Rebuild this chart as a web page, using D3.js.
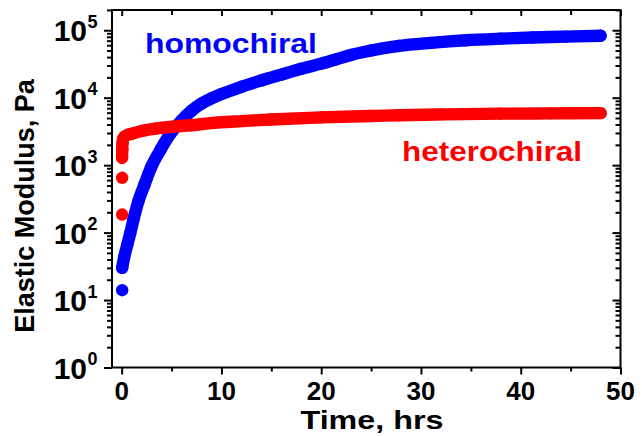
<!DOCTYPE html>
<html>
<head>
<meta charset="utf-8">
<script src="https://cdn.jsdelivr.net/npm/d3@7/dist/d3.min.js"></script>
<style>
  html, body { margin: 0; padding: 0; background: #fff; }
  svg { display: block; font-family: "Liberation Sans", Arial, sans-serif; font-weight: bold; }
</style>
</head>
<body>
<svg id="chart" width="642" height="436"></svg>
<script>
// Elastic modulus (Pa) versus time (hours) for the two gel systems
const homoTime = [0.05, 0.25, 0.55, 0.85, 1.2, 1.7, 2.3, 2.95, 3.9, 4.9, 6.0, 7.0, 8.0, 9.0, 10, 12, 14, 16, 18, 20, 21.5, 23, 25, 27.8, 31, 34.5, 38, 41.2, 44.5, 48];
const homoModulus = [30, 43, 65, 97, 160, 300, 520, 930, 1700, 2950, 4600, 6400, 8200, 9800, 11300, 14500, 18000, 22000, 26800, 32000, 37000, 43000, 50000, 58500, 65000, 71000, 75000, 78000, 80500, 83000];
const homoEarlyTime = [0.05];
const homoEarlyModulus = [14];

const heteroTime = [0.04, 0.06, 0.08, 0.15, 0.3, 0.6, 1.15, 2, 3.5, 5, 6.9, 8.9, 12, 15, 20, 25, 27.8, 32, 37.9, 43, 48];
const heteroModulus = [1290, 1700, 2100, 2450, 2650, 2800, 2960, 3200, 3500, 3700, 3900, 4200, 4500, 4750, 5100, 5350, 5500, 5650, 5800, 5850, 5900];
const heteroEarlyTime = [0.05, 0.05];
const heteroEarlyModulus = [185, 650];

const xTicks = [0, 10, 20, 30, 40, 50];
const xMinorTicks = [5, 15, 25, 35, 45];
const yDecades = [1, 10, 100, 1000, 10000, 100000];
const yExponents = ["0", "1", "2", "3", "4", "5"];

const seriesNames = ["homochiral", "heterochiral"];
const seriesColors = ["#0000ff", "#ff0000"];

const svg = d3.select("#chart");
const plotL = 112, plotR = 620.5, plotT = 10, plotB = 367.5;

const x = d3.scaleLinear().domain([-0.97, 50]).range([plotL, plotR]);
const y = d3.scaleLog().domain([1, Math.pow(10, 5.3)]).range([plotB, plotT]);

// minor log ticks 2..9 in every decade inside the domain
const yMinor = [];
for (let d = 0; d <= 5; d++) {
  for (let m = 2; m <= 9; m++) {
    const v = m * Math.pow(10, d);
    if (y(v) >= plotT - 0.5) yMinor.push(v);
  }
}

// ---- data marks ----
const markR = 6.2;
function drawSeries(times, values, color) {
  const pts = times.map((t, i) => [t, values[i]]);
  const line = d3.line().x(d => x(d[0])).y(d => y(d[1])).curve(d3.curveMonotoneX);
  svg.append("path")
    .attr("d", line(pts))
    .attr("fill", "none")
    .attr("stroke", color)
    .attr("stroke-width", markR * 2)
    .attr("stroke-linecap", "round")
    .attr("stroke-linejoin", "round");
  svg.append("g").selectAll("circle").data(pts).join("circle")
    .attr("cx", d => x(d[0])).attr("cy", d => y(d[1])).attr("r", markR)
    .attr("fill", color);
}
function drawDots(times, values, color) {
  svg.append("g").selectAll("circle").data(times.map((t, i) => [t, values[i]])).join("circle")
    .attr("cx", d => x(d[0])).attr("cy", d => y(d[1])).attr("r", markR)
    .attr("fill", color);
}
drawSeries(homoTime, homoModulus, seriesColors[0]);
drawDots(homoEarlyTime, homoEarlyModulus, seriesColors[0]);
drawSeries(heteroTime, heteroModulus, seriesColors[1]);
drawDots(heteroEarlyTime, heteroEarlyModulus, seriesColors[1]);

// ---- axes ----
function styleAxis(g) {
  g.select(".domain").remove();
  g.selectAll("line").attr("stroke", "#000").attr("stroke-width", 2);
  g.selectAll("text").remove();
}
// bottom (outward)
svg.append("g").attr("transform", `translate(0,${plotB})`)
  .call(d3.axisBottom(x).tickValues(xTicks).tickSize(7)).call(styleAxis);
svg.append("g").attr("transform", `translate(0,${plotB})`)
  .call(d3.axisBottom(x).tickValues(xMinorTicks).tickSize(4)).call(styleAxis);
// top (inward)
svg.append("g").attr("transform", `translate(0,${plotT})`)
  .call(d3.axisBottom(x).tickValues(xTicks).tickSize(6)).call(styleAxis);
svg.append("g").attr("transform", `translate(0,${plotT})`)
  .call(d3.axisBottom(x).tickValues(xMinorTicks).tickSize(5)).call(styleAxis);
// left (outward)
svg.append("g").attr("transform", `translate(${plotL},0)`)
  .call(d3.axisLeft(y).tickValues(yDecades).tickSize(8)).call(styleAxis);
svg.append("g").attr("transform", `translate(${plotL},0)`)
  .call(d3.axisLeft(y).tickValues(yMinor).tickSize(5)).call(styleAxis);
// right (inward)
svg.append("g").attr("transform", `translate(${plotR},0)`)
  .call(d3.axisLeft(y).tickValues(yDecades).tickSize(8)).call(styleAxis);
svg.append("g").attr("transform", `translate(${plotR},0)`)
  .call(d3.axisLeft(y).tickValues(yMinor).tickSize(5)).call(styleAxis);

// frame
svg.append("rect")
  .attr("x", plotL).attr("y", plotT)
  .attr("width", plotR - plotL).attr("height", plotB - plotT)
  .attr("fill", "none").attr("stroke", "#000").attr("stroke-width", 2);

// x tick labels
svg.append("g").selectAll("text").data(xTicks).join("text")
  .attr("x", d => x(d)).attr("y", 400)
  .attr("text-anchor", "middle").attr("font-size", 26)
  .text(d => d);

// y tick labels: 10 with superscript exponent
const yl = svg.append("g").selectAll("g").data(yDecades).join("g");
yl.append("text")
  .attr("x", 87).attr("y", d => y(d) + 11)
  .attr("text-anchor", "end").attr("font-size", 30)
  .text("10");
yl.append("text")
  .attr("x", 87.5).attr("y", d => y(d) - 2.5)
  .attr("text-anchor", "start").attr("font-size", 18)
  .text((d, i) => yExponents[i]);

// axis titles
svg.append("text")
  .attr("x", 372).attr("y", 429)
  .attr("text-anchor", "middle").attr("font-size", 25)
  .attr("textLength", 143).attr("lengthAdjust", "spacingAndGlyphs")
  .text("Time, hrs");
svg.append("text")
  .attr("transform", "translate(33.5,206) rotate(-90)")
  .attr("text-anchor", "middle").attr("font-size", 27)
  .text("Elastic Modulus, Pa");

// series labels
svg.append("text")
  .attr("x", 145).attr("y", 52.5).attr("font-size", 28)
  .attr("fill", seriesColors[0])
  .attr("textLength", 172).attr("lengthAdjust", "spacingAndGlyphs")
  .text(seriesNames[0]);
svg.append("text")
  .attr("x", 402).attr("y", 160.5).attr("font-size", 28)
  .attr("fill", seriesColors[1])
  .attr("textLength", 180).attr("lengthAdjust", "spacingAndGlyphs")
  .text(seriesNames[1]);
</script>
</body>
</html>
